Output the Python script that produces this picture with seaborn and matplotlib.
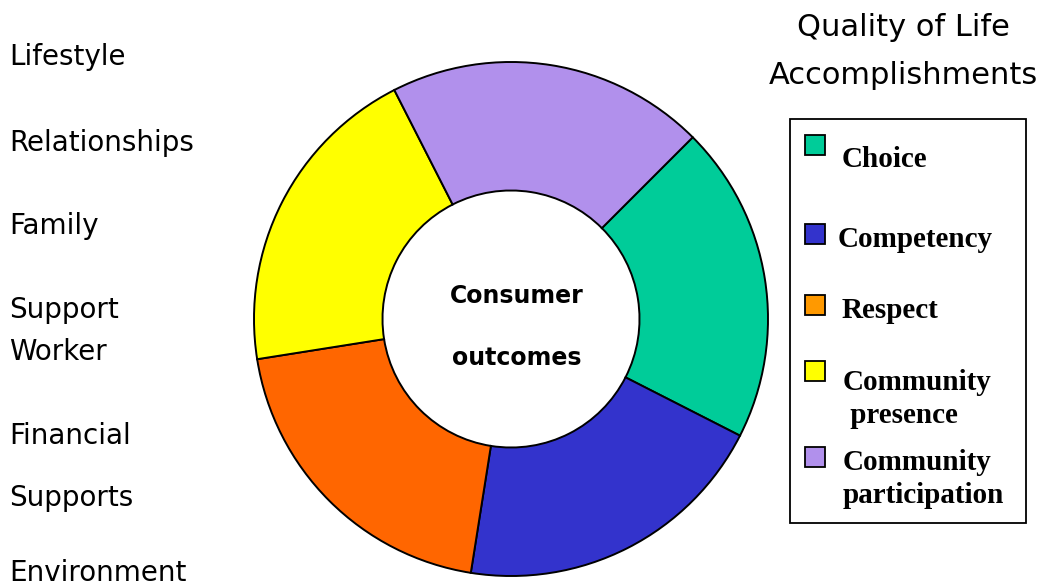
import matplotlib.pyplot as plt
import matplotlib.patches as mpatches
import seaborn as sns

# Outcome segments (equal shares of the ring)
outcomes = ["Choice", "Competency", "Respect", "Community presence", "Community participation"]
shares = [1, 1, 1, 1, 1]
colors = ["#00CC99", "#3333CC", "#FF6600", "#FFFF00", "#B190EC"]
legend_swatch = ["#00CC99", "#3333CC", "#FF9900", "#FFFF00", "#B190EC"]
legend_lines = [["Choice"], ["Competency"], ["Respect"], ["Community", " presence"],
                ["Community", "participation"]]

# Left-hand factor list
factors = ["Lifestyle", "Relationships", "Family", "Support", "Worker",
           "Financial", "Supports", "Environment"]

sns.set_theme(style="white", rc={"text.color": "black"})
W, H = 1047, 588
fig = plt.figure(figsize=(W / 100, H / 100), dpi=100)

# donut
cx, cy, r = 511, 319, 257
pad = 1.02
ax = fig.add_axes([(cx - r * pad) / W, (H - cy - r * pad) / H,
                   2 * r * pad / W, 2 * r * pad / H])
ax.pie(shares, colors=colors, startangle=45, counterclock=False,
       wedgeprops=dict(width=0.5, edgecolor="black", linewidth=1.4))
ax.set_xlim(-pad, pad)
ax.set_ylim(-pad, pad)
ax.axis("off")
ax.text(0.023, 0.09, "Consumer", ha="center", va="center", fontsize=17, fontweight="bold")
ax.text(0.023, -0.152, "outcomes", ha="center", va="center", fontsize=17, fontweight="bold")

# left labels (baselines, px from top)
ys = [65, 151, 234, 318, 360, 444, 506, 581]
for name, y in zip(factors, ys):
    fig.text(9 / W, 1 - y / H, name, ha="left", va="baseline", fontsize=20)

# title
fig.text(903 / W, 1 - 27 / H, "Quality of Life", ha="center", va="center", fontsize=22)
fig.text(903 / W, 1 - 75 / H, "Accomplishments", ha="center", va="center", fontsize=22)

# legend box
fig.patches.append(mpatches.Rectangle((790 / W, 1 - 523 / H), 236 / W, 404 / H,
                                      transform=fig.transFigure, fill=False,
                                      edgecolor="black", linewidth=1.3))
base_y = [167, 247, 318, 390, 470]
sq_top = [135, 224, 295, 361, 447]
text_x = [842, 838, 842, 843, 843]
for lines, col, y, st, tx in zip(legend_lines, legend_swatch, base_y, sq_top, text_x):
    fig.patches.append(mpatches.Rectangle((805 / W, 1 - (st + 20) / H), 20 / W, 20 / H,
                                          transform=fig.transFigure, facecolor=col,
                                          edgecolor="black", linewidth=1.3))
    for k, line in enumerate(lines):
        fig.text(tx / W, 1 - (y + 33 * k) / H, line, ha="left", va="baseline",
                 fontsize=21, fontweight="bold", family="Liberation Serif")

fig.savefig("out.png", dpi=100)
